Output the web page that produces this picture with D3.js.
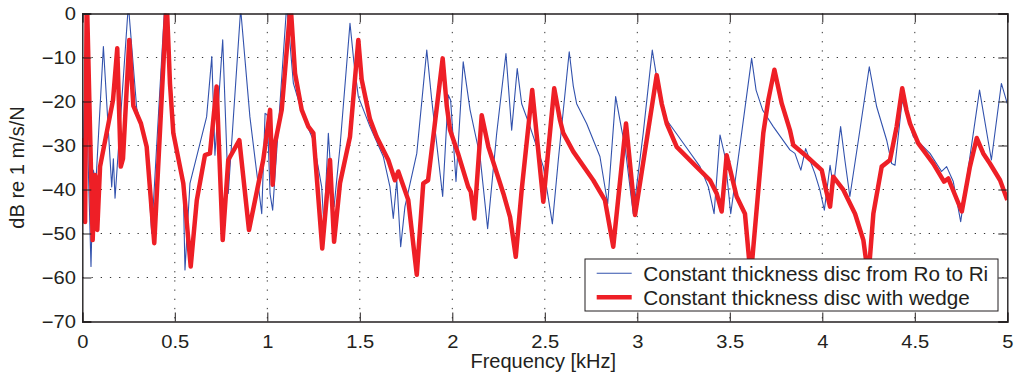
<!DOCTYPE html>
<html>
<head>
<meta charset="utf-8">
<script src="https://cdn.jsdelivr.net/npm/d3@7"></script>
<style>
  body { margin: 0; background: #fff; }
  svg text { font-family: "Liberation Sans", Arial, sans-serif; fill: #231f20; }
</style>
</head>
<body>
<svg id="chart" width="1016" height="381"></svg>
<script>
// axis ticks
const freqTicks = [0, 0.5, 1, 1.5, 2, 2.5, 3, 3.5, 4, 4.5, 5];
const dbTicks = [0, -10, -20, -30, -40, -50, -60, -70];

// legend entries
const seriesNames = ['Constant thickness disc from Ro to Ri', 'Constant thickness disc with wedge'];

// [frequency kHz, dB], thin blue curve
const discRoRi = [
  [0.002, -20], [0.012, -44], [0.024, -22], [0.047, -57.5], [0.059, -35.6], [0.074, -38],
  [0.114, -7.5], [0.159, -39.4], [0.168, -33], [0.177, -42], [0.249, 2], [0.294, -21.5],
  [0.348, -30], [0.375, -50], [0.447, 3], [0.492, -27.5], [0.546, -40], [0.555, -58.3],
  [0.582, -38.6], [0.672, -23.5], [0.700, -9.8], [0.717, -32.2], [0.759, -6], [0.789, -40.9],
  [0.856, 1], [0.906, -23.5], [0.970, -45.5], [0.988, -22.7], [1.000, -23], [1.015, -41],
  [1.029, -44.7], [1.105, 2], [1.141, -15.9], [1.195, -23.5], [1.249, -28.8], [1.294, -39.4],
  [1.306, -48.4], [1.330, -27.2], [1.348, -39.4], [1.361, -43.9], [1.393, -30.3], [1.447, -2.2],
  [1.468, -11], [1.492, -18.9], [1.555, -25.7], [1.627, -32.5], [1.663, -39.4], [1.681, -46.6], [1.700, -37.9],
  [1.721, -53], [1.744, -43.9], [1.808, -31.8], [1.862, -8.3], [1.889, -19.7], [1.948, -41.6],
  [1.978, -18.5], [1.991, -19.7], [2.020, -38.2], [2.059, -11], [2.096, -21.9], [2.150, -32.5],
  [2.191, -48.9], [2.240, -27.2], [2.290, -9.1], [2.321, -26.5], [2.351, -12.5], [2.375, -20.5],
  [2.420, -25.7], [2.492, -34.8], [2.541, -47.8], [2.573, -33.3], [2.632, -8.7], [2.654, -16.5], [2.672, -20.5],
  [2.726, -25], [2.798, -32.5], [2.840, -43.3], [2.883, -18.9], [2.916, -26.5], [2.934, -30.3],
  [2.978, -45.5], [3.032, -27.2], [3.081, -8.3], [3.103, -14], [3.114, -18.1], [3.159, -24.2], [3.249, -29.5],
  [3.339, -34.8], [3.384, -39.4], [3.415, -45.5], [3.447, -27.6], [3.474, -32.5], [3.505, -45.5],
  [3.564, -27.2], [3.618, -10.2], [3.642, -17.4], [3.678, -22], [3.735, -25.7], [3.825, -31], [3.852, -31.8],
  [3.884, -35.6], [3.910, -30.7], [3.960, -36.4], [3.987, -40.1], [4.011, -44.7], [4.042, -34.5],
  [4.060, -39.4], [4.099, -25.7], [4.122, -33.3], [4.149, -41.6], [4.195, -28.8], [4.254, -12.1],
  [4.276, -17.2], [4.294, -21.2], [4.348, -28.8], [4.375, -34.1], [4.393, -34.5], [4.432, -19.7], [4.492, -28],
  [4.582, -31.8], [4.645, -35.9], [4.672, -34.8], [4.708, -38.2], [4.748, -47.3], [4.798, -32.5],
  [4.850, -17.4], [4.914, -33.3], [4.968, -15.9], [5.000, -20.5]
];

// [frequency kHz, dB] thick red curve
const discWedge = [
  [0.002, -28.3], [0.015, -47.4], [0.024, 5], [0.056, -51.5], [0.069, -36.7], [0.081, -49.2],
  [0.096, -34.8], [0.166, -19.7], [0.189, -7.9], [0.208, -34.8], [0.220, -33], [0.254, -6],
  [0.276, -21], [0.317, -25], [0.348, -30.3], [0.389, -52.2], [0.456, 3], [0.474, -16], [0.492, -27.2], [0.546, -38.6],
  [0.586, -57.5], [0.619, -42.4], [0.663, -32.2], [0.690, -31.8], [0.726, -16.6], [0.759, -51.5],
  [0.789, -33.3], [0.849, -28.8], [0.901, -49.2], [0.978, -33.3], [1.015, -21.9], [1.029, -38.9],
  [1.042, -29.5], [1.078, -21.9], [1.126, 2], [1.150, -13.6], [1.186, -21.9], [1.222, -25.7],
  [1.249, -27.2], [1.297, -53.4], [1.339, -33.3], [1.361, -51.9], [1.393, -38.6], [1.447, -28],
  [1.492, -6], [1.510, -15], [1.555, -24], [1.591, -28], [1.654, -33.3], [1.690, -37.9], [1.708, -35.9],
  [1.762, -42.4], [1.808, -59.4], [1.843, -38.6], [1.869, -37.9], [1.948, -10.2], [1.970, -21], [1.988, -26.5],
  [2.031, -31.8], [2.086, -39.4], [2.100, -40.5], [2.119, -46.6], [2.159, -23.1], [2.195, -30.3],
  [2.276, -40.9], [2.312, -46.2], [2.343, -55.3], [2.375, -40.1], [2.432, -17.4], [2.492, -42.8],
  [2.551, -17], [2.582, -24.2], [2.600, -27.2], [2.654, -31.4], [2.762, -37.9], [2.825, -42.4], [2.870, -53],
  [2.939, -25], [2.988, -45.8], [3.105, -14], [3.132, -20.5], [3.159, -25], [3.213, -30.3], [3.303, -34.1],
  [3.393, -37.9], [3.429, -40.9], [3.456, -45], [3.483, -32.2], [3.537, -41.6], [3.582, -45.5],
  [3.613, -60], [3.681, -27.2], [3.708, -19.7], [3.741, -12.8], [3.781, -20.5], [3.825, -26.5],
  [3.843, -29.9], [3.916, -32.5], [3.997, -35.6], [4.020, -40.1], [4.042, -43.9], [4.059, -37.1],
  [4.114, -40.1], [4.177, -45.5], [4.222, -51.5], [4.249, -60], [4.276, -45.5], [4.321, -34.8],
  [4.366, -33.3], [4.402, -25.7], [4.432, -17], [4.455, -22], [4.474, -25], [4.519, -29.5], [4.600, -34.1],
  [4.658, -38.2], [4.681, -37.5], [4.754, -45], [4.798, -34.8], [4.835, -28.3], [4.870, -31.8],
  [4.906, -34.1], [4.961, -37.9], [5.000, -42.4]
];

const colors = ['#3252ad', '#ee1f26'];
const widths = [1.1, 4.5];

let svg = d3.select('#chart');
let plotLeft = 82.3, plotRight = 1007.3, plotTop = 13.5, plotBottom = 321.5;

let x = d3.scaleLinear().domain([0, 5]).range([plotLeft, plotRight]);
let y = d3.scaleLinear().domain([-70, 0]).range([plotBottom, plotTop]);

// dotted grid
let grid = svg.append('g').attr('class', 'grid')
    .attr('stroke', '#333').attr('stroke-width', 1).attr('stroke-dasharray', '1.3,7.9');
grid.selectAll('.gx').data(freqTicks.slice(1, -1)).enter().append('line')
    .attr('x1', d => x(d)).attr('x2', d => x(d))
    .attr('y1', plotTop).attr('y2', plotBottom);
grid.selectAll('.gy').data(dbTicks.slice(1, -1)).enter().append('line')
    .attr('x1', plotLeft).attr('x2', plotRight)
    .attr('y1', d => y(d)).attr('y2', d => y(d));

// curves, clipped to the axes box
svg.append('clipPath').attr('id', 'plotclip')
  .append('rect').attr('x', plotLeft).attr('y', plotTop)
    .attr('width', plotRight - plotLeft).attr('height', plotBottom - plotTop);

let line = d3.line().x(d => x(d[0])).y(d => y(d[1]));
let curves = svg.append('g').attr('clip-path', 'url(#plotclip)');
[discRoRi, discWedge].forEach(function(data, i) {
    curves.append('path')
        .datum(data)
        .attr('fill', 'none')
        .attr('stroke', colors[i])
        .attr('stroke-width', widths[i])
        .attr('stroke-linejoin', 'round')
        .attr('d', line);
});

// axes, MATLAB style: ticks point inward on all four sides
let fmt = d => d3.format('')(d).replace('-', '\u2212');
let ax = svg.append('g').attr('class', 'axes');

ax.append('g').attr('transform', `translate(0,${plotBottom})`)
    .call(d3.axisBottom(x).tickValues(freqTicks).tickSize(-9).tickPadding(14).tickFormat(fmt));
ax.append('g').attr('transform', `translate(${plotLeft},0)`)
    .call(d3.axisLeft(y).tickValues(dbTicks).tickSize(-9).tickPadding(5.7).tickFormat(fmt));
ax.append('g').attr('transform', `translate(0,${plotTop})`)
    .call(d3.axisTop(x).tickValues(freqTicks).tickSize(-9).tickFormat(''));
ax.append('g').attr('transform', `translate(${plotRight},0)`)
    .call(d3.axisRight(y).tickValues(dbTicks).tickSize(-9).tickFormat(''));

ax.selectAll('.domain').attr('stroke', '#231f20').attr('stroke-width', 1.4);
ax.selectAll('.tick line').attr('stroke', '#231f20').attr('stroke-width', 1);
ax.selectAll('.tick text')
    .attr('font-size', 18)
    .attr('font-family', '"Liberation Sans", Arial, sans-serif')
    .attr('fill', '#231f20')
    .attr('transform', 'scale(1.12,1)');

// axis titles
svg.append('text')
    .attr('x', 543.3).attr('y', 368.3)
    .attr('text-anchor', 'middle')
    .attr('font-size', 20)
    .text('Frequency [kHz]');
svg.append('text')
    .attr('transform', 'translate(23.5,167.5) rotate(-90)')
    .attr('text-anchor', 'middle')
    .attr('font-size', 20)
    .text('dB re 1 m/s/N');

// legend
let legend = svg.append('g').attr('transform', 'translate(585,259)');
legend.append('rect')
    .attr('width', 413).attr('height', 52)
    .attr('fill', '#fff').attr('stroke', '#231f20').attr('stroke-width', 1);
seriesNames.forEach(function(name, i) {
    let ly = 14.3 + i * 24;
    legend.append('line')
        .attr('x1', 11.7).attr('x2', 46.7)
        .attr('y1', ly).attr('y2', ly)
        .attr('stroke', colors[i]).attr('stroke-width', widths[i]);
    legend.append('text')
        .attr('x', 58.3).attr('y', ly + 7.4)
        .attr('font-size', 20.7)
        .text(name);
});
</script>
</body>
</html>
